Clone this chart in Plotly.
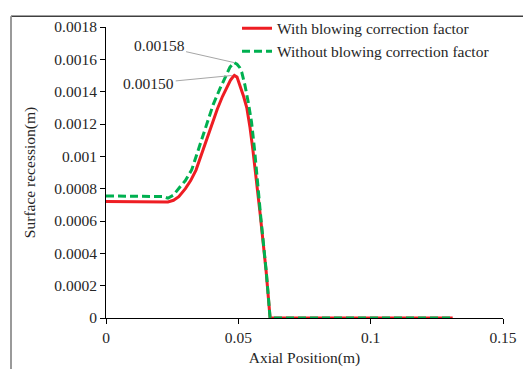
import plotly.graph_objects as go

# Axial position (m) and surface recession (m) for the two cases
x_with = [0.0, 0.005, 0.010, 0.015, 0.020, 0.0234, 0.0255, 0.0275, 0.0300,
          0.0320, 0.0340, 0.0360, 0.0380, 0.0400, 0.0420, 0.0440, 0.0460,
          0.0470, 0.0480, 0.0485, 0.0495, 0.0506, 0.0520, 0.0532, 0.0544,
          0.0555, 0.0565, 0.0582, 0.0605, 0.0620, 0.070, 0.080, 0.090,
          0.100, 0.110, 0.120, 0.131]
y_with = [0.000720, 0.000720, 0.000720, 0.000719, 0.000718, 0.000718,
          0.000728, 0.000750, 0.000800, 0.000850, 0.000915, 0.001010,
          0.001110, 0.001205, 0.001290, 0.001370, 0.001440, 0.001470,
          0.001492, 0.001500, 0.001490, 0.001440, 0.001370, 0.001300,
          0.001180, 0.001040, 0.000900, 0.000650, 0.000290, 0.0,
          0.0, 0.0, 0.0, 0.0, 0.0, 0.0, 0.0]

x_without = [0.0, 0.005, 0.010, 0.015, 0.0216, 0.0234, 0.0255, 0.0280,
             0.0300, 0.0324, 0.0350, 0.0380, 0.0405, 0.0431, 0.0450, 0.0468,
             0.0478, 0.0484, 0.0495, 0.0505, 0.0513, 0.0525, 0.0538, 0.0550,
             0.0562, 0.0572, 0.0585, 0.0606, 0.0620, 0.070, 0.080, 0.090,
             0.100, 0.110, 0.120, 0.131]
y_without = [0.000755, 0.000755, 0.000754, 0.000753, 0.000751, 0.000741,
             0.000760, 0.000812, 0.000850, 0.000917, 0.001050, 0.001200,
             0.001320, 0.001420, 0.001490, 0.001550, 0.001570, 0.001580,
             0.001570, 0.001550, 0.001520, 0.001440, 0.001330, 0.001210,
             0.001030, 0.000870, 0.000620, 0.000280, 0.0, 0.0, 0.0, 0.0,
             0.0, 0.0, 0.0, 0.0]

series_names = ["With blowing correction factor",
                "Without blowing correction factor"]

peak_with = 0.00150
peak_without = 0.00158

x_ticks = [0, 0.05, 0.1, 0.15]
x_tick_text = ["0", "0.05", "0.1", "0.15"]
y_ticks = [0, 0.0002, 0.0004, 0.0006, 0.0008, 0.001, 0.0012, 0.0014, 0.0016, 0.0018]
y_tick_text = ["0", "0.0002", "0.0004", "0.0006", "0.0008", "0.001",
               "0.0012", "0.0014", "0.0016", "0.0018"]

FONT = "Liberation Serif, Times New Roman, serif"
TXT = "#262626"
FS = 15.5

fig = go.Figure()
fig.add_trace(go.Scatter(x=x_with, y=y_with, mode="lines", name=series_names[0],
                         line=dict(color="#EE1D23", width=3)))
fig.add_trace(go.Scatter(x=x_without, y=y_without, mode="lines", name=series_names[1],
                         line=dict(color="#00B050", width=3, dash="8px,4px")))

# Peak value callouts
fig.add_annotation(x=0.0484, y=peak_without, text=f"{peak_without:.5f}",
                   showarrow=True, arrowhead=0, arrowwidth=1, arrowcolor="#a6a6a6",
                   ax=-75, ay=-17, font=dict(family=FONT, size=FS, color=TXT))
fig.add_annotation(x=0.0475, y=peak_with, text=f"{peak_with:.5f}",
                   showarrow=True, arrowhead=0, arrowwidth=1, arrowcolor="#a6a6a6",
                   ax=-83, ay=8, font=dict(family=FONT, size=FS, color=TXT))

# Partial frame lines around the chart area
fig.add_shape(type="line", xref="paper", yref="paper", x0=-0.2393, x1=1.2,
              y0=1.037, y1=1.037, line=dict(color="#404040", width=1.5))
fig.add_shape(type="line", xref="paper", yref="paper", x0=-0.2393, x1=-0.2393,
              y0=1.037, y1=-0.3, line=dict(color="#9a9a9a", width=2))

axis_common = dict(showgrid=False, zeroline=False, showline=True, linecolor="black",
                   linewidth=1, ticks="outside", ticklen=5, tickcolor="black",
                   automargin=False, tickfont=dict(family=FONT, size=FS, color=TXT))

fig.update_layout(
    template="none",
    width=523, height=369,
    margin=dict(l=106, r=20, t=21, b=51),
    paper_bgcolor="white", plot_bgcolor="white",
    font=dict(family=FONT, size=FS, color=TXT),
    showlegend=True,
    legend=dict(x=0.33, y=1.053, xanchor="left", yanchor="top",
                bgcolor="rgba(0,0,0,0)", font=dict(family=FONT, size=FS, color=TXT),
                tracegroupgap=0),
    xaxis=dict(range=[0, 0.15], tickvals=x_ticks, ticktext=x_tick_text,
               title=dict(text="Axial Position(m)", standoff=7,
                          font=dict(family=FONT, size=FS, color=TXT)),
               **axis_common),
    yaxis=dict(range=[0, 0.0018], tickvals=y_ticks, ticktext=y_tick_text,
               title=dict(text="Surface recession(m)", standoff=14,
                          font=dict(family=FONT, size=FS, color=TXT)),
               **axis_common),
)

fig.write_html("out.html")
